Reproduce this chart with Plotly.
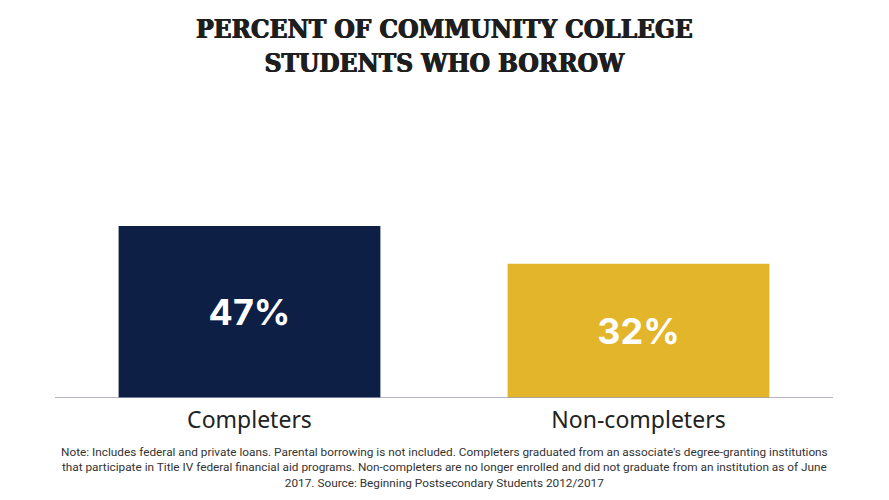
import plotly.graph_objects as go

# data
groups = ["Completers", "Non-completers"]
pct_borrow = [47, 32]
bar_labels = ["47%", "32%"]
bar_colors = ["#0E1F45", "#E3B52A"]

title_text = "PERCENT OF COMMUNITY COLLEGE<br>STUDENTS WHO BORROW"
note_text = ("Note: Includes federal and private loans. Parental borrowing is not included. "
             "Completers graduated from an associate's degree-granting institutions<br>"
             "that participate in Title IV federal financial aid programs. Non-completers are no "
             "longer enrolled and did not graduate from an institution as of June<br>"
             "2017. Source: Beginning Postsecondary Students 2012/2017")

# the original chart's bars don't start at zero, they start below it
axis_floor = -21

fig = go.Figure()
fig.add_trace(go.Bar(
    x=groups,
    y=[v - axis_floor for v in pct_borrow],
    base=axis_floor,
    marker=dict(color=bar_colors, line=dict(width=0)),
    text=bar_labels,
    textposition="inside",
    insidetextanchor="middle",
    textfont=dict(family="Inter", size=36, color="white", weight="bold"),
    hoverinfo="skip",
))

fig.update_layout(
    width=889, height=500,
    margin=dict(l=47, r=64, t=185, b=110),
    paper_bgcolor="white", plot_bgcolor="white",
    bargap=0.327,
    showlegend=False,
    xaxis=dict(
        showgrid=False, zeroline=False,
        showline=False, ticks="",
        ticklabelstandoff=6,
        tickfont=dict(family="Noto Sans", size=23, color="#222222"),
    ),
    yaxis=dict(
        range=[axis_floor, 60], visible=False, showgrid=False, zeroline=False,
    ),
    annotations=[
        dict(
            text=title_text,
            xref="paper", yref="paper", x=0.5, y=1.885,
            xanchor="center", yanchor="top", align="center",
            showarrow=False,
            font=dict(family="DejaVu Serif Condensed", size=26, color="#1E1E1E",
                      weight="bold", shadow="0.7px 0 0 #1E1E1E, -0.4px 0 0 #1E1E1E"),
        ),
        dict(
            text=note_text,
            xref="paper", yref="paper", x=0.5, y=-0.337,
            xanchor="center", yanchor="middle", align="center",
            showarrow=False,
            font=dict(family="Roboto", size=11.8, color="#333333"),
        ),
    ],
    shapes=[dict(
        type="line", xref="paper", yref="y",
        x0=0, x1=1, y0=axis_floor, y1=axis_floor,
        line=dict(color="#9C9CB4", width=1.5),
    )],
)

fig.write_html("out.html")
